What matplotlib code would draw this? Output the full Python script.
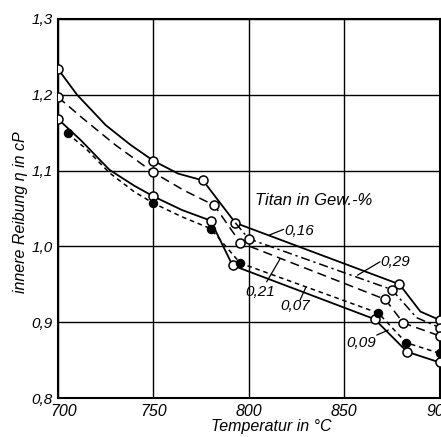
import matplotlib
matplotlib.use("Agg")
import matplotlib.pyplot as plt
import matplotlib.transforms as mtransforms

# ---- data ----
T_016 = [700, 710, 725, 738, 750, 763, 776, 793, 879, 890, 900]
V_016 = [1.234, 1.200, 1.160, 1.134, 1.113, 1.096, 1.087, 1.031, 0.950, 0.914, 0.903]
M_016 = [0, 4, 6, 7, 8, 10]

T_029 = [793, 800, 875, 888, 900]
V_029 = [1.031, 1.010, 0.943, 0.906, 0.893]
M_029 = [1, 2, 4]

T_021 = [700, 712, 730, 750, 766, 782, 795.5, 871.6, 881, 900]
V_021 = [1.197, 1.171, 1.134, 1.0975, 1.074, 1.054, 1.005, 0.930, 0.899, 0.882]
M_021 = [0, 3, 5, 6, 7, 8, 9]

T_007 = [700, 712, 727, 740, 750, 765, 780, 791.5, 866, 883, 900]
V_007 = [1.168, 1.140, 1.101, 1.080, 1.066, 1.048, 1.034, 0.975, 0.904, 0.861, 0.847]
M_007 = [0, 4, 6, 7, 8, 9, 10]

T_009 = [705, 715, 727, 740, 750, 765, 780, 795.5, 868, 882.5, 900]
V_009 = [1.149, 1.128, 1.097, 1.072, 1.057, 1.039, 1.0235, 0.978, 0.912, 0.873, 0.859]
M_009 = [0, 4, 6, 7, 8, 9, 10]

x_ticks = [700, 750, 800, 850, 900]
x_labels = ["700", "750", "800", "850", "900"]
y_ticks = [0.8, 0.9, 1.0, 1.1, 1.2, 1.3]
y_labels = ["0,8", "0,9", "1,0", "1,1", "1,2", "1,3"]

FONT = ["Liberation Sans", "DejaVu Sans"]

fig = plt.figure(figsize=(4.41, 4.37), dpi=100)
ax = fig.add_axes([58 / 441, 1 - 398 / 437, (439.5 - 58) / 441, (398 - 19) / 437])
ax.set_xlim(700, 900)
ax.set_ylim(0.8, 1.3)

ax.set_xticks(x_ticks)
ax.set_xticklabels(x_labels, fontsize=11.5, fontstyle="italic", family=FONT)
ax.set_yticks(y_ticks)
ax.set_yticklabels(y_labels, fontsize=11, fontstyle="italic", family=FONT)
ax.tick_params(axis="x", length=0, pad=4.5)
ax.tick_params(axis="y", length=0, pad=3.6)
for s in ax.spines.values():
    s.set_linewidth(1.5)
    s.set_color("black")
ax.grid(True, color="black", linewidth=1.0)
ax.set_axisbelow(True)

# nudge first x tick label to the right like in the reference
lbl = ax.get_xticklabels()[0]
lbl.set_transform(lbl.get_transform() + mtransforms.ScaledTranslation(6 / 100, 0, fig.dpi_scale_trans))

lw = 1.3
ms = 6.5
ax.plot(T_016, V_016, color="black", lw=lw, ls="-", marker="o", markevery=M_016,
        mfc="white", mec="black", ms=ms, mew=1.1, zorder=3)
ax.plot(T_029, V_029, color="black", lw=1.1, ls=(0, (6, 2.5, 1.5, 2.5)), marker="o", markevery=M_029,
        mfc="white", mec="black", ms=ms, mew=1.1, zorder=3)
ax.plot(T_021, V_021, color="black", lw=1.1, ls=(0, (6, 3.5)), marker="o", markevery=M_021,
        mfc="white", mec="black", ms=ms, mew=1.1, zorder=3)
ax.plot(T_007, V_007, color="black", lw=lw, ls="-", marker="o", markevery=M_007,
        mfc="white", mec="black", ms=ms, mew=1.1, zorder=3)
ax.plot(T_009, V_009, color="black", lw=1.1, ls=(0, (3, 2.5)), marker="o", markevery=M_009,
        mfc="black", mec="black", ms=5.8, mew=1.0, zorder=4)

tkw = dict(fontstyle="italic", family=FONT, color="black")
ax.text(803.3, 1.0546, "Titan in Gew.-%", fontsize=12, ha="left", va="baseline", **tkw)

lkw = dict(arrowprops=dict(arrowstyle="-", color="black", lw=0.9, shrinkA=0, shrinkB=0))
ax.annotate("", xy=(810.8, 1.015), xytext=(818.3, 1.0225), **lkw)
ax.text(818.8, 1.020, "0,16", fontsize=11, ha="left", va="center", **tkw)

ax.annotate("", xy=(857.0, 0.962), xytext=(868.8, 0.9797), **lkw)
ax.text(869.2, 0.979, "0,29", fontsize=11, ha="left", va="center", **tkw)

ax.annotate("", xy=(816.4, 0.9835), xytext=(809.4, 0.9533), **lkw)
ax.text(806.0, 0.9403, "0,21", fontsize=11, ha="center", va="center", **tkw)

ax.annotate("", xy=(830.0, 0.9464), xytext=(826.9, 0.9293), **lkw)
ax.text(824.2, 0.9215, "0,07", fontsize=11, ha="center", va="center", **tkw)

ax.annotate("", xy=(873.2, 0.8897), xytext=(867.1, 0.883), **lkw)
ax.text(859.1, 0.873, "0,09", fontsize=11, ha="center", va="center", **tkw)

fig.text(21 / 441, 1 - 212 / 437, "innere Reibung η in cP", rotation=90, fontsize=11.5,
         ha="center", va="center", **tkw)
fig.text(271 / 441, 1 - 426 / 437, "Temperatur in °C", fontsize=11.5,
         ha="center", va="center", **tkw)

fig.savefig("out.png", dpi=100)
